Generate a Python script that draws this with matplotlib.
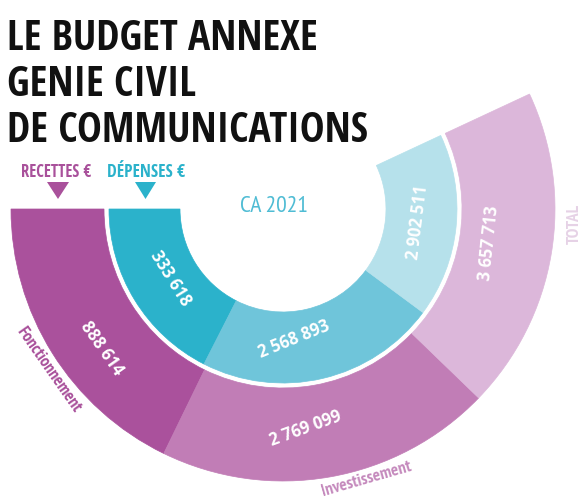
import matplotlib
matplotlib.use("Agg")
import matplotlib.pyplot as plt
from matplotlib.patches import Wedge, Polygon

# Budget annexe génie civil de communications, CA 2021
categories = ["Fonctionnement", "Investissement", "TOTAL"]
recettes = [888614, 2769099, 3657713]
depenses = [333618, 2568893, 2902511]

title_lines = ["LE BUDGET ANNEXE", "GENIE CIVIL", "DE COMMUNICATIONS"]

purples = ["#aa519c", "#c17db6", "#dcb7da"]
teals = ["#2bb2cb", "#6fc5da", "#b6e1eb"]

COND = "Open Sans Condensed"
NARROW = "PT Sans Narrow"

# ring geometry (pixel space, y up)
W, H = 584, 502
cx, cy = 283, 292
outer_r, outer_w = 272, 93
inner_r, inner_w = 174, 71
# segment edges in degrees (counter-clockwise from the left horizontal)
outer_edges = [180, 244, 316, 385]
inner_edges = [180, 243, 323.5, 385]


def fmt(v):
    return f"{v:,}".replace(",", " ")


fig = plt.figure(figsize=(W / 100, H / 100), dpi=100)
ax = fig.add_axes([0, 0, 1, 1])
ax.set_xlim(0, W)
ax.set_ylim(0, H)
ax.axis("off")

for i in range(3):
    ax.add_patch(Wedge((cx, cy), outer_r, outer_edges[i], outer_edges[i + 1],
                       width=outer_w, facecolor=purples[i], edgecolor=purples[i], lw=0.5))
    ax.add_patch(Wedge((cx, cy), inner_r, inner_edges[i], inner_edges[i + 1],
                       width=inner_w, facecolor=teals[i], edgecolor=teals[i], lw=0.5))

# value labels: (x, y) in image pixels, rotation
num_font = dict(family="Open Sans", weight="bold", size=12, color="white",
                ha="center", va="center", rotation_mode="anchor")
rec_pos = [(102, 348, -55), (306, 428, 20), (489, 243, 84)]
dep_pos = [(171, 278, -58), (294, 339, 22), (418, 222, 83)]
for v, (x, y, r) in zip(recettes, rec_pos):
    ax.text(x, H - y, fmt(v), rotation=r, **num_font)
for v, (x, y, r) in zip(depenses, dep_pos):
    ax.text(x, H - y, fmt(v), rotation=r, **num_font)

# category names around the outer ring
cat_pos = [(48, 370, -55), (367, 479, 16), (575, 224, 90)]
cat_colors = ["#a9519b", "#c58abd", "#e6d2e6"]
for name, (x, y, r), c in zip(categories, cat_pos, cat_colors):
    ax.text(x, H - y, name, rotation=r, ha="center", va="center",
            rotation_mode="anchor", family=NARROW, weight="bold",
            size=12.5, color=c)

# title
for k, line in enumerate(title_lines):
    ax.text(7, H - (50 + 46 * k), line, ha="left", va="baseline",
            family=COND, weight="bold", size=30, color="#111111")

# legend headers with markers
ax.text(56.5, H - 172, "RECETTES €", ha="center", va="center",
        family=COND, weight="bold", size=12, color="#a9519b")
ax.text(146, H - 172, "DÉPENSES €", ha="center", va="center",
        family=COND, weight="bold", size=12.5, color="#2bb2cb")
ax.add_patch(Polygon([(47, H - 183), (69, H - 183), (58, H - 200)],
                     closed=True, facecolor="#a9519b", edgecolor="none"))
ax.add_patch(Polygon([(135, H - 183), (156, H - 183), (145.5, H - 200)],
                     closed=True, facecolor="#2bb2cb", edgecolor="none"))

ax.text(274, H - 206, "CA 2021", ha="center", va="center",
        family=NARROW, size=17, color="#4fbcd4")

fig.savefig("out.png", dpi=100)
